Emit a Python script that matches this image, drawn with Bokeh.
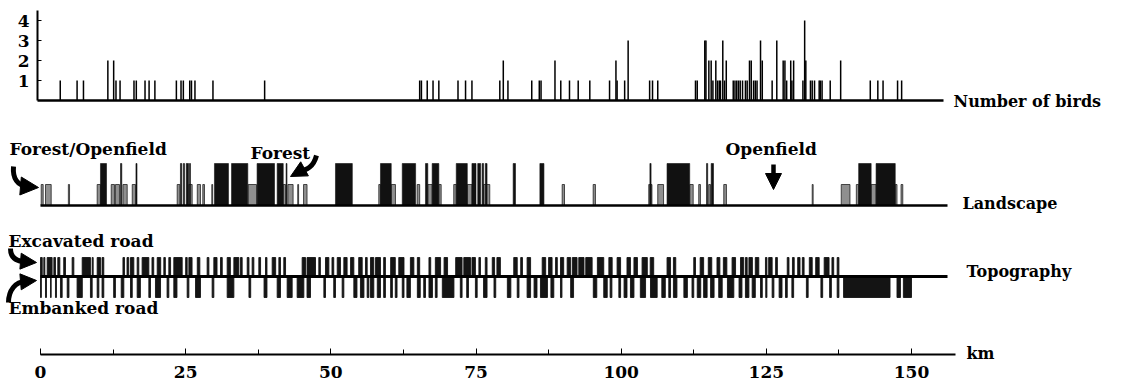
from bokeh.plotting import figure
from bokeh.models import Range1d, LinearAxis, FixedTicker, SingleIntervalTicker, Arrow, NormalHead
from bokeh.embed import file_html
from bokeh.resources import INLINE
from bokeh.core.properties import value

# ---------------- data (km along the road) ----------------
bird_km = [3.4, 6.3, 7.4, 11.6, 12.6, 13.0, 13.7, 16.1, 16.5, 18.0, 18.7, 19.7, 23.4, 24.2, 24.6,
           25.7, 26.0, 26.6, 29.7, 38.6, 65.3, 65.6, 66.6, 67.6, 68.6, 71.9, 73.2, 74.3, 79.1, 79.7,
           80.5, 84.6, 85.9, 86.2, 88.6, 89.6, 91.1, 92.6, 94.6, 98.0, 99.1, 99.3, 100.6, 101.2,
           104.9, 105.4, 106.3, 112.8, 113.1, 114.4, 114.6, 115.1, 115.5, 115.8, 116.3, 116.6, 116.9,
           117.1, 117.5, 117.8, 118.1, 119.3, 119.6, 119.9, 120.2, 120.5, 120.9, 121.4, 121.7, 122.1,
           122.4, 122.8, 123.1, 123.4, 124.0, 124.3, 126.0, 126.8, 127.9, 128.2, 128.5, 129.2, 129.4,
           129.7, 131.3, 131.6, 131.8, 132.6, 132.9, 133.3, 134.1, 134.3, 134.6, 136.0, 137.8, 142.9,
           144.2, 145.1, 147.6, 148.3]
bird_n = [1, 1, 1, 2, 2, 1, 1, 1, 1, 1, 1, 1, 1, 1, 1,
          1, 1, 1, 1, 1, 1, 1, 1, 1, 1, 1, 1, 1, 1, 2,
          1, 1, 1, 1, 2, 1, 1, 1, 1, 1, 2, 1, 1, 3,
          1, 1, 1, 1, 1, 3, 3, 2, 2, 1, 2, 1, 1,
          1, 3, 1, 2, 1, 1, 1, 1, 1, 1, 1, 1, 2,
          2, 1, 1, 1, 3, 2, 1, 3, 2, 2, 1, 2, 1,
          2, 1, 4, 2, 1, 1, 1, 1, 1, 1, 1, 2, 1,
          1, 1, 1, 1]

# Landscape: forest stretches (tall) and forest/openfield stretches (short)
forest = [(10.33, 11.37), (13.78, 14.0), (16.44, 16.62), (24.1, 24.33), (24.6, 24.8), (25.1, 25.5),
          (25.66, 25.83), (29.96, 32.37), (32.9, 35.7), (37.3, 40.3), (40.76, 41.8), (42.3, 42.45),
          (50.8, 53.7), (58.55, 60.4), (62.3, 64.6), (66.3, 66.7), (67.45, 68.6), (71.6, 73.5),
          (74.3, 75.0), (75.3, 75.8), (76.06, 76.3), (76.6, 76.9), (81.4, 81.8), (86.0, 86.7),
          (104.95, 105.15), (107.9, 111.8), (114.7, 114.9), (115.5, 115.9), (140.9, 143.05),
          (143.9, 147.2)]
mixed = [(0.12, 0.46), (0.86, 1.84), (4.8, 5.0), (9.76, 10.33), (12.18, 12.74), (12.9, 13.6),
         (14.2, 14.93), (15.8, 16.36), (23.54, 24.0), (25.54, 26.12), (27.0, 27.55), (27.95, 28.24),
         (29.5, 29.65), (35.77, 37.2), (41.8, 42.2), (42.6, 43.5), (44.3, 44.45), (45.3, 45.9),
         (58.26, 58.55), (60.4, 61.13), (64.87, 65.3), (66.7, 67.45), (68.6, 69.0), (71.17, 71.6),
         (73.5, 74.3), (76.3, 77.37), (89.84, 90.24), (95.18, 95.57), (104.75, 104.95),
         (105.15, 105.3), (106.3, 107.3), (111.8, 112.4), (113.36, 113.65), (115.08, 115.38),
         (117.67, 118.13), (132.9, 133.06), (137.9, 139.4), (140.5, 140.9), (143.05, 143.9),
         (147.2, 147.5), (148.2, 148.5)]

# Topography: excavated road (above line) and embanked road (below line)
excavated = [(0.0, 0.3), (0.57, 0.75), (1.15, 2.0), (2.3, 2.58), (2.98, 3.33), (4.0, 4.3), (5.45, 5.74),
             (7.18, 8.6), (8.9, 9.07), (9.76, 10.33), (10.6, 10.9), (14.2, 14.47), (14.9, 15.2),
             (15.5, 16.07), (16.65, 16.93), (17.5, 18.66), (19.2, 19.5), (20.1, 20.7), (21.24, 21.5),
             (22.1, 22.4), (22.96, 24.4), (25.0, 25.26), (25.55, 26.1), (27.0, 27.44), (28.7, 29.0),
             (29.85, 30.4), (31.0, 31.3), (32.15, 32.7), (33.3, 34.16), (34.44, 34.73), (35.6, 35.9),
             (36.45, 36.74), (37.6, 37.9), (38.75, 39.0), (39.9, 40.5), (41.05, 41.33), (41.9, 42.2),
             (45.06, 45.64), (45.9, 47.36), (47.93, 48.2), (49.08, 49.66), (50.2, 50.5), (51.1, 51.66),
             (52.24, 52.8), (53.4, 53.96), (54.8, 55.4), (55.97, 56.26), (56.83, 57.4), (57.7, 58.55),
             (59.1, 59.4), (60.3, 61.1), (61.7, 62.6), (63.7, 64.3), (64.9, 65.3), (66.9, 67.2),
             (68.0, 68.9), (69.5, 70.1), (71.5, 72.6), (72.9, 74.05), (74.3, 74.9), (75.5, 75.77),
             (76.6, 76.9), (77.8, 78.2), (78.6, 79.2), (81.5, 82.1), (82.7, 83.0), (83.8, 84.4),
             (86.4, 87.0), (87.5, 88.1), (88.7, 89.0), (89.55, 90.1), (90.7, 91.3), (91.6, 92.4),
             (92.7, 93.6), (93.9, 95.0), (95.9, 97.0), (97.88, 98.45), (99.3, 99.9), (101.0, 101.6),
             (102.2, 102.8), (103.6, 104.5), (105.0, 105.6), (107.9, 108.5), (109.0, 109.4),
             (112.5, 112.8), (113.6, 114.2), (115.0, 115.6), (116.5, 117.0), (117.6, 118.2),
             (119.1, 119.7), (120.55, 121.1), (121.4, 121.7), (122.0, 122.6), (123.1, 123.7),
             (124.85, 125.1), (125.4, 126.0), (126.6, 126.9), (128.6, 128.9), (129.5, 129.8),
             (130.4, 130.8), (131.2, 131.5), (132.4, 132.9), (133.5, 134.1), (134.96, 135.8),
             (136.3, 136.6), (137.2, 137.5)]
embanked = [(0.0, 0.15), (0.86, 1.03), (1.72, 1.84), (2.58, 2.75), (3.44, 3.73), (4.6, 4.9), (6.3, 7.2),
            (8.6, 8.9), (9.76, 10.05), (10.6, 10.9), (12.6, 12.9), (13.9, 14.35), (15.5, 15.8),
            (16.65, 17.2), (18.66, 18.94), (19.8, 20.67), (21.8, 22.1), (22.96, 23.5), (25.26, 25.55),
            (26.7, 27.55), (29.56, 29.85), (32.15, 33.3), (35.9, 36.2), (38.5, 39.0), (40.76, 41.33),
            (42.48, 43.34), (44.2, 45.35), (45.9, 46.5), (48.8, 49.08), (50.5, 50.8), (51.95, 52.24),
            (53.96, 54.5), (55.1, 55.7), (56.26, 56.55), (56.83, 57.4), (58.0, 58.55), (59.1, 59.4),
            (60.3, 60.6), (61.1, 61.4), (62.3, 62.6), (63.1, 63.7), (64.9, 65.4), (66.0, 66.3),
            (66.9, 67.5), (68.0, 68.3), (69.2, 71.2), (72.3, 72.6), (73.4, 73.7), (74.9, 75.2),
            (76.3, 76.9), (78.1, 78.4), (80.4, 81.0), (82.1, 82.4), (83.8, 84.4), (85.0, 85.5),
            (86.1, 87.3), (87.9, 88.4), (89.55, 89.8), (91.3, 91.8), (95.2, 95.8), (97.0, 97.6),
            (98.1, 98.4), (99.6, 99.9), (100.5, 101.0), (101.6, 102.2), (103.3, 104.2), (105.05, 106.2),
            (107.0, 107.6), (108.2, 108.5), (109.0, 109.6), (110.8, 111.4), (112.2, 112.5),
            (113.1, 113.7), (114.2, 114.8), (115.4, 116.0), (116.8, 117.4), (118.3, 119.4),
            (120.3, 120.8), (121.4, 122.0), (122.56, 123.1), (124.0, 124.3), (124.9, 125.1),
            (126.0, 126.3), (127.2, 127.7), (128.3, 128.6), (129.4, 129.7), (131.9, 132.2),
            (134.4, 134.7), (135.9, 136.2), (137.2, 137.5), (138.3, 146.3), (147.5, 148.1),
            (148.6, 150.0)]

bird_ticks = [1, 2, 3, 4]
km_tick_interval = 25
row_labels = ["Number of birds", "Landscape", "Topography", "km"]

# ---------------- layout (page pixels) ----------------
W, H = 1129, 385
PX0, PXKM = 40.0, 5.8067
def kx(px):
    return (px - PX0) / PXKM

BIRD_BASE = 100
LAND_BASE, LAND_SHORT, LAND_TALL = 205, 184, 163
TOPO_LINE, TOPO_UP, TOPO_DOWN = 276, 257, 297
KM_ROW = 354

SERIF = value("DejaVu Serif")

p = figure(width=W, height=H, x_range=Range1d(kx(0), kx(W)), y_range=Range1d(H, 0),
           output_backend="svg", toolbar_location=None, x_axis_type=None, y_axis_type=None,
           min_border=0, outline_line_color=None, background_fill_color="white")
p.extra_y_ranges = {"birds": Range1d((BIRD_BASE - H) / 20.0, BIRD_BASE / 20.0)}

# ---- birds ----
p.segment(x0=bird_km, y0=[0] * len(bird_km), x1=bird_km, y1=bird_n, y_range_name="birds",
          line_color="black", line_width=1.5)
p.segment(x0=[kx(37)], y0=[0], x1=[kx(943)], y1=[0], y_range_name="birds",
          line_color="black", line_width=2.5)
yax = LinearAxis(y_range_name="birds", fixed_location=kx(37), bounds=(0, 4.5),
                 ticker=FixedTicker(ticks=bird_ticks))
yax.axis_line_width = 2
yax.major_tick_in = 4
yax.major_tick_out = 0
yax.minor_tick_line_color = None
yax.major_label_text_font = "DejaVu Serif"
yax.major_label_text_font_style = "bold"
yax.major_label_text_font_size = "17px"
yax.major_label_text_color = "black"
yax.major_label_standoff = 8
p.add_layout(yax, "left")

# ---- landscape ----
p.quad(left=[a for a, b in mixed], right=[b for a, b in mixed], bottom=LAND_BASE, top=LAND_SHORT,
       fill_color="#8f8f8f", line_color="#222222", line_width=0.8)
p.quad(left=[a for a, b in forest], right=[b for a, b in forest], bottom=LAND_BASE, top=LAND_TALL,
       fill_color="#111111", line_color="#111111", line_width=0.6)
p.segment(x0=[0], y0=[LAND_BASE], x1=[kx(947)], y1=[LAND_BASE], line_color="black", line_width=2.5)

# ---- topography ----
p.quad(left=[a for a, b in excavated], right=[b for a, b in excavated], bottom=TOPO_LINE, top=TOPO_UP,
       fill_color="#141414", line_color="#141414", line_width=0.9)
p.quad(left=[a for a, b in embanked], right=[b for a, b in embanked], bottom=TOPO_LINE, top=TOPO_DOWN,
       fill_color="#141414", line_color="#141414", line_width=0.9)
p.segment(x0=[0], y0=[TOPO_LINE], x1=[kx(947)], y1=[TOPO_LINE], line_color="black", line_width=3)

# ---- km axis ----
xax = LinearAxis(fixed_location=KM_ROW, bounds=(0, kx(955)),
                 ticker=SingleIntervalTicker(interval=km_tick_interval, num_minor_ticks=2))
xax.axis_line_width = 2
xax.major_tick_in = 6
xax.major_tick_out = 0
xax.minor_tick_in = 5
xax.minor_tick_out = 0
xax.major_label_text_font = "DejaVu Serif"
xax.major_label_text_font_style = "bold"
xax.major_label_text_font_size = "17px"
xax.major_label_text_color = "black"
xax.major_label_standoff = 11
p.add_layout(xax, "below")

# ---- right-hand labels ----
p.text(x=[kx(953), kx(962), kx(966), kx(966)], y=[101, 203, 271, 353], text=row_labels,
       text_font=SERIF, text_font_style="bold", text_font_size="16px",
       text_baseline="middle", text_align="left", text_color="black")

# ---- annotations ----
p.text(x=[kx(9), kx(250), kx(725), kx(8), kx(8)], y=[148, 152, 148, 240, 307],
       text=["Forest/Openfield", "Forest", "Openfield", "Excavated road", "Embanked road"],
       text_font=SERIF, text_font_style="bold", text_font_size="17px",
       text_baseline="middle", text_align="left", text_color="black")

# curved arrow bodies
p.bezier(x0=[kx(13), kx(316), kx(10), kx(8)], y0=[166, 155, 248, 302],
         x1=[kx(27), kx(300), kx(25), kx(25)], y1=[186, 170, 261, 281],
         cx0=[kx(12), kx(313), kx(10), kx(8)], cy0=[178, 166, 257, 290],
         cx1=[kx(17), kx(306), kx(15), kx(15)], cy1=[185, 170, 261, 281],
         line_color="black", line_width=5)
# arrow heads
for xs, ys, xe, ye, sz in [(26, 186, 38, 187, 18), (301, 170, 290, 176, 16),
                           (24, 261, 36, 262, 16), (24, 281, 36, 280, 16),
                           (773, 164, 773, 189, 16)]:
    p.add_layout(Arrow(end=NormalHead(size=sz, fill_color="black", line_color="black"),
                       x_start=kx(xs), y_start=ys, x_end=kx(xe), y_end=ye,
                       line_color="black", line_width=4.5))

open("out.html", "w").write(file_html(p, INLINE))
